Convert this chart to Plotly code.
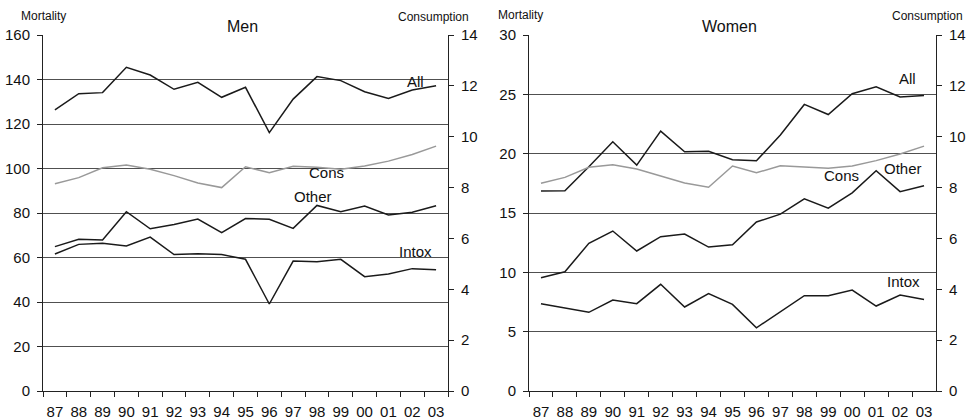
import plotly.graph_objects as go

years = ["87", "88", "89", "90", "91", "92", "93", "94", "95", "96", "97", "98", "99", "00", "01", "02", "03"]

# Men mortality
men_all = [126.3, 133.6, 134.1, 145.5, 142.0, 135.6, 138.7, 132.0, 136.5, 116.1, 131.2, 141.3, 139.5, 134.5, 131.5, 135.3, 137.2]
men_other = [64.9, 68.2, 67.9, 80.6, 72.9, 74.8, 77.3, 71.2, 77.5, 77.2, 73.1, 83.4, 80.6, 83.1, 79.1, 80.3, 83.3]
men_intox = [61.6, 65.9, 66.4, 65.2, 69.2, 61.3, 61.7, 61.3, 59.2, 39.1, 58.4, 58.1, 59.2, 51.4, 52.6, 55.0, 54.5]

# Women mortality
women_all = [16.85, 16.88, 18.9, 21.0, 19.04, 21.9, 20.16, 20.2, 19.49, 19.4, 21.57, 24.15, 23.3, 25.05, 25.64, 24.77, 24.9]
women_other = [9.55, 10.05, 12.44, 13.48, 11.8, 13.0, 13.23, 12.13, 12.33, 14.24, 14.9, 16.2, 15.4, 16.7, 18.56, 16.8, 17.3]
women_intox = [7.36, 6.97, 6.63, 7.67, 7.36, 8.99, 7.08, 8.2, 7.3, 5.33, 6.68, 8.03, 8.03, 8.51, 7.16, 8.09, 7.72]

# Consumption (right axis)
men_cons = [8.15, 8.39, 8.78, 8.89, 8.72, 8.47, 8.18, 8.0, 8.82, 8.58, 8.84, 8.80, 8.72, 8.85, 9.04, 9.30, 9.63]
women_cons = [8.17, 8.40, 8.80, 8.90, 8.73, 8.47, 8.18, 8.01, 8.85, 8.58, 8.86, 8.81, 8.76, 8.85, 9.06, 9.32, 9.63]

W, H = 968, 420
FONT = "Liberation Sans, Arial, sans-serif"
BLACK = "#1a1a1a"
GREY = "#999999"
GRID = "#505050"


def px(x):
    return x / W


def py(y):
    return 1 - y / H


fig = go.Figure()

black_line = dict(color=BLACK, width=1.5)
grey_line = dict(color=GREY, width=1.5)

for s in (men_all, men_other, men_intox):
    fig.add_trace(go.Scatter(x=years, y=s, mode="lines", line=black_line, xaxis="x", yaxis="y", showlegend=False))
fig.add_trace(go.Scatter(x=years, y=men_cons, mode="lines", line=grey_line, xaxis="x", yaxis="y2", showlegend=False))

for s in (women_all, women_other, women_intox):
    fig.add_trace(go.Scatter(x=years, y=s, mode="lines", line=black_line, xaxis="x2", yaxis="y3", showlegend=False))
fig.add_trace(go.Scatter(x=years, y=women_cons, mode="lines", line=grey_line, xaxis="x2", yaxis="y4", showlegend=False))

ydom = [py(391), py(35)]
tickfont = dict(family=FONT, size=15, color="#111")

xcommon = dict(
    type="category", tickson="boundaries", ticks="outside", ticklen=5, tickcolor="#222",
    showline=True, linecolor="#222", linewidth=1, showgrid=False, tickfont=tickfont,
    range=[-0.5, 16.5], fixedrange=True, ticklabelstandoff=7, tickangle=0, automargin=False,
)
yleft = dict(
    showline=True, linecolor="#222", linewidth=1, ticks="outside", ticklen=5, tickcolor="#222",
    showgrid=True, gridcolor=GRID, gridwidth=1, zeroline=False, tickfont=tickfont, ticklabelstandoff=4,
    automargin=False, fixedrange=True,
)
yright = dict(
    showline=True, linecolor="#222", linewidth=1, ticks="outside", ticklen=5, tickcolor="#222",
    showgrid=False, zeroline=False, tickfont=tickfont, side="right", range=[0, 14], dtick=2,
    ticklabelstandoff=4, automargin=False, fixedrange=True,
)

fig.update_layout(
    template="none",
    width=W, height=H,
    margin=dict(l=0, r=0, t=0, b=0, pad=0),
    paper_bgcolor="white", plot_bgcolor="white",
    font=dict(family=FONT, color="#111"),
    hovermode=False,
    xaxis=dict(xcommon, domain=[px(43), px(448)], anchor="y"),
    xaxis2=dict(xcommon, domain=[px(529), px(936)], anchor="y3"),
    yaxis=dict(yleft, domain=ydom, range=[0, 160], dtick=20, anchor="x"),
    yaxis2=dict(yright, overlaying="y", anchor="x"),
    yaxis3=dict(yleft, domain=ydom, range=[0, 30], dtick=5, anchor="x2"),
    yaxis4=dict(yright, overlaying="y3", anchor="x2"),
)

anns = []
# Titles and axis captions
for text, x, y, size in [
    ("Men", 242, 27, 16), ("Women", 729.5, 27, 16),
]:
    anns.append(dict(text=text, x=px(x), y=py(y), xref="paper", yref="paper", showarrow=False,
                     font=dict(family=FONT, size=size, color="#111"), xanchor="center", yanchor="middle"))
for text, x, y, xa in [
    ("Mortality", 19, 16, "left"), ("Consumption", 471, 17, "right"),
    ("Mortality", 496, 15, "left"), ("Consumption", 965, 16, "right"),
]:
    anns.append(dict(text=text, x=px(x), y=py(y), xref="paper", yref="paper", showarrow=False,
                     font=dict(family=FONT, size=12, color="#111"), xanchor=xa, yanchor="middle"))

# Series labels (in data coordinates)
for text, x, y, xr, yr in [
    ("All", 15.12, 139.3, "x", "y"), ("Cons", 11.42, 98.0, "x", "y"),
    ("Other", 10.83, 87.6, "x", "y"), ("Intox", 15.12, 62.5, "x", "y"),
    ("All", 15.29, 26.3, "x2", "y3"), ("Cons", 12.57, 18.2, "x2", "y3"),
    ("Other", 15.14, 18.76, "x2", "y3"), ("Intox", 15.16, 9.2, "x2", "y3"),
]:
    anns.append(dict(text=text, x=x, y=y, xref=xr, yref=yr, showarrow=False,
                     font=dict(family=FONT, size=15, color="#111"), xanchor="center", yanchor="middle"))

fig.update_layout(annotations=anns)
fig.write_html(
    "out.html",
    config={"displayModeBar": False, "staticPlot": True},
    post_script="document.body.style.margin='0';document.body.style.overflow='hidden';",
)
